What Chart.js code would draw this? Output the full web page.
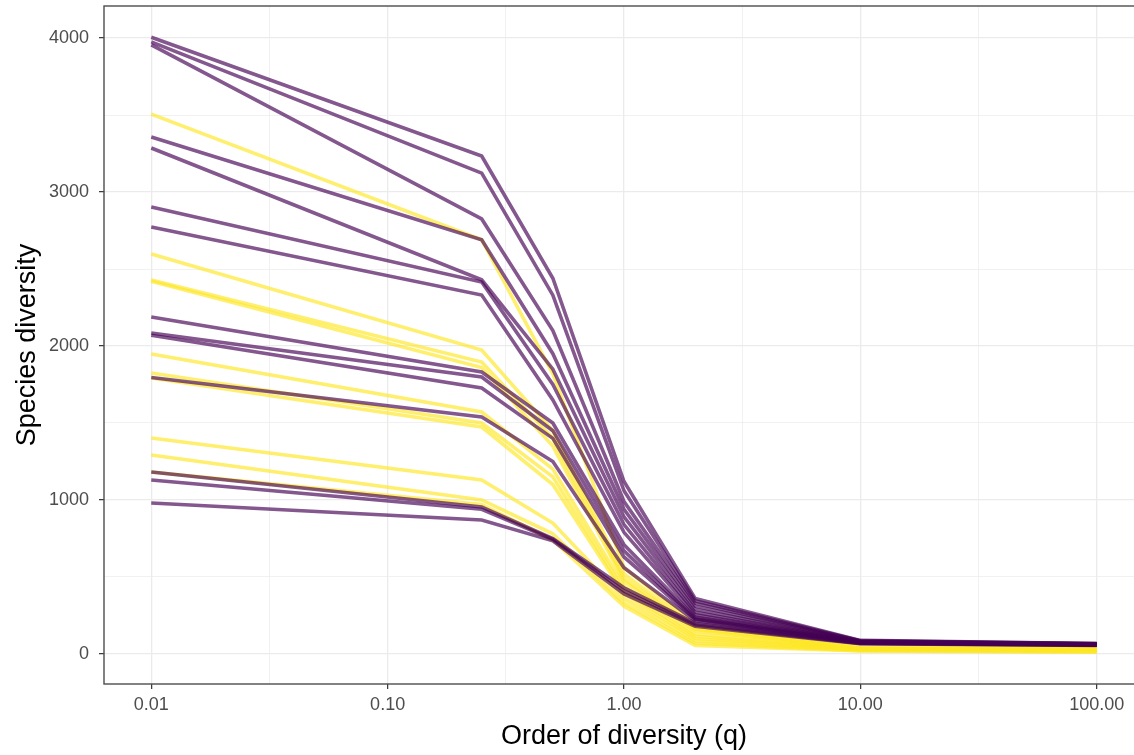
<!DOCTYPE html>
<html lang="en">
<head>
  <meta charset="UTF-8" />
  <title>Species diversity profiles</title>
  <script src="https://cdn.jsdelivr.net/npm/chart.js"></script>
  <style>
    html, body { margin: 0; padding: 0; background: #fff; overflow: hidden; }
    /* the panel runs a little past the right edge of the picture, as in the original crop */
    #wrap { width: 1146px; height: 755px; }
  </style>
</head>
<body>
  <div id="wrap"><canvas id="diversityChart" width="1146" height="755"></canvas></div>

  <script>
    // Orders of diversity q where each profile was evaluated
    const qOrders = [0.01, 0.25, 0.5, 1, 2, 10, 100];

    // Profiles drawn in purple (one array per sample, values at qOrders)
    const purpleProfiles = [
      [4005, 3234, 2440, 1120, 360, 88, 68],
      [3975, 3123, 2330, 1060, 345, 86, 67],
      [3955, 2825, 2100, 990, 330, 84, 66],
      [3357, 2690, 1950, 940, 310, 82, 65],
      [3286, 2430, 1850, 890, 290, 80, 64],
      [2903, 2415, 1750, 840, 270, 78, 63],
      [2773, 2331, 1650, 790, 255, 77, 62],
      [2188, 1831, 1500, 710, 240, 76, 62],
      [2084, 1799, 1450, 670, 230, 75, 61],
      [2070, 1727, 1400, 630, 225, 74, 60],
      [1795, 1539, 1250, 560, 215, 72, 60],
      [1182, 955, 750, 430, 200, 70, 58],
      [1130, 940, 745, 410, 190, 68, 57],
      [980, 870, 735, 390, 180, 66, 56]
    ];

    // Profiles drawn in yellow
    const yellowProfiles = [
      [3506, 2690, 1820, 560, 190, 45, 38],
      [2597, 1974, 1450, 520, 170, 40, 34],
      [2429, 1896, 1400, 490, 160, 38, 32],
      [2420, 1860, 1350, 470, 150, 36, 30],
      [1948, 1571, 1200, 440, 130, 32, 26],
      [1825, 1500, 1150, 410, 115, 30, 24],
      [1792, 1474, 1100, 390, 100, 28, 22],
      [1403, 1130, 850, 360, 85, 25, 18],
      [1292, 1000, 780, 330, 70, 22, 15],
      [1182, 970, 740, 310, 55, 20, 12]
    ];

    // Axis ticks (major labelled, minor only gridlines)
    const xMajorTicks = [0.01, 0.1, 1, 10, 100];
    const xMinorTicks = [0.0316, 0.316, 3.16, 31.6];
    const yMajorTicks = [0, 1000, 2000, 3000, 4000];
    const yMinorTicks = [500, 1500, 2500, 3500];

    const purple = 'rgba(68, 1, 84, 0.66)';
    const yellow = 'rgba(253, 231, 37, 0.66)';

    function toPoints(values) {
      return values.map((v, i) => ({ x: qOrders[i], y: v }));
    }

    const datasets = [];
    purpleProfiles.forEach(p => datasets.push({ data: toPoints(p), borderColor: purple }));
    yellowProfiles.forEach(p => datasets.push({ data: toPoints(p), borderColor: yellow }));

    // draws the full panel rectangle like theme_bw
    const panelBorder = {
      id: 'panelBorder',
      afterDraw(chart) {
        const { ctx, chartArea } = chart;
        ctx.save();
        ctx.strokeStyle = '#4d4d4d';
        ctx.lineWidth = 1.4;
        ctx.strokeRect(chartArea.left, chartArea.top,
          chartArea.right - chartArea.left, chartArea.bottom - chartArea.top);
        ctx.restore();
      }
    };

    const isMajorX = v => xMajorTicks.some(m => Math.abs(m - v) < 1e-9);
    const isMajorY = v => yMajorTicks.includes(v);

    const ctx = document.getElementById('diversityChart').getContext('2d');
    new Chart(ctx, {
      type: 'line',
      data: { datasets },
      options: {
        responsive: false,
        animation: false,
        layout: { padding: { top: 6, right: 2, left: 0, bottom: 0 } },
        elements: {
          line: { borderWidth: 3.6, tension: 0 },
          point: { radius: 0 }
        },
        plugins: {
          legend: { display: false },
          tooltip: { enabled: false }
        },
        scales: {
          x: {
            type: 'logarithmic',
            min: Math.pow(10, -2.2),
            max: Math.pow(10, 2.2),
            border: { display: false },
            afterBuildTicks: scale => {
              scale.ticks = xMajorTicks.concat(xMinorTicks)
                .sort((a, b) => a - b)
                .map(v => ({ value: v }));
            },
            afterFit: scale => {
              scale.height = 71;
              scale.paddingLeft = 0;
              scale.paddingRight = 0;
            },
            grid: {
              color: '#ebebeb',
              lineWidth: c => isMajorX(c.tick.value) ? 1.3 : 0.7,
              tickColor: c => isMajorX(c.tick.value) ? '#333333' : 'rgba(0,0,0,0)',
              tickLength: 5,
              tickWidth: 1.2
            },
            ticks: {
              autoSkip: false,
              maxRotation: 0,
              padding: 5,
              color: '#4d4d4d',
              font: { family: 'Liberation Sans', size: 18 },
              callback: v => isMajorX(v) ? v.toFixed(2) : ''
            },
            title: {
              display: true,
              text: 'Order of diversity (q)',
              color: '#000',
              padding: 2,
              font: { family: 'Liberation Sans', size: 27 }
            }
          },
          y: {
            min: -195,
            max: 4208,
            border: { display: false },
            afterBuildTicks: scale => {
              scale.ticks = yMajorTicks.concat(yMinorTicks)
                .sort((a, b) => a - b)
                .map(v => ({ value: v }));
            },
            afterFit: scale => {
              scale.width = 104;
              scale.paddingTop = 0;
              scale.paddingBottom = 0;
            },
            grid: {
              color: '#ebebeb',
              lineWidth: c => isMajorY(c.tick.value) ? 1.3 : 0.7,
              tickColor: c => isMajorY(c.tick.value) ? '#333333' : 'rgba(0,0,0,0)',
              tickLength: 5,
              tickWidth: 1.2
            },
            ticks: {
              autoSkip: false,
              padding: 10,
              color: '#4d4d4d',
              font: { family: 'Liberation Sans', size: 18 },
              callback: v => isMajorY(v) ? String(v) : ''
            },
            title: {
              display: true,
              text: 'Species diversity',
              color: '#000',
              padding: 11,
              font: { family: 'Liberation Sans', size: 27 }
            }
          }
        }
      },
      plugins: [panelBorder]
    });
  </script>
</body>
</html>
